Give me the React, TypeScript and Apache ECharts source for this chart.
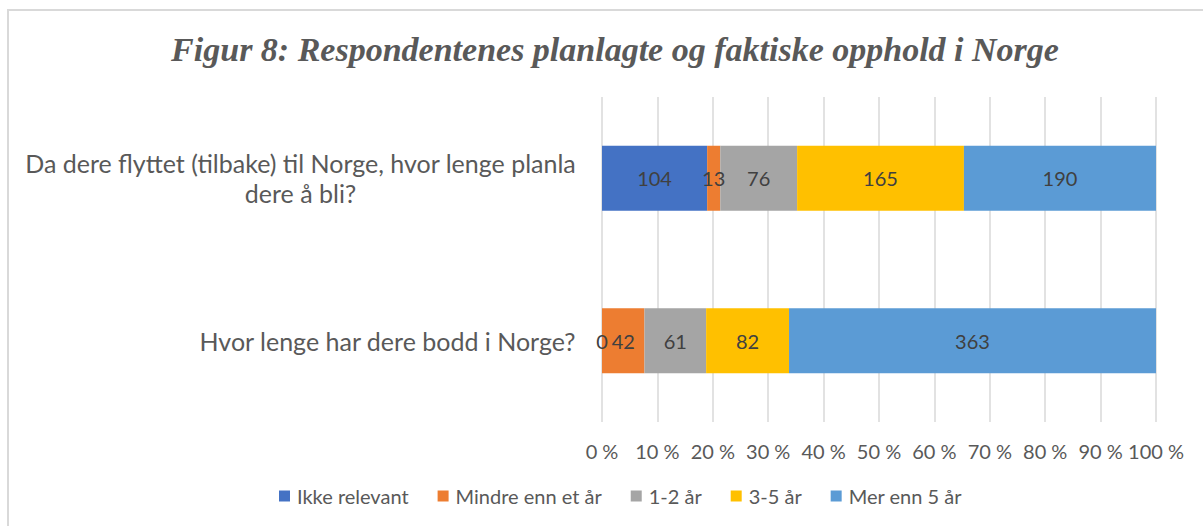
import React, { useEffect, useRef } from "react";
import * as echarts from "echarts";

const titleText = "Figur 8: Respondentenes planlagte og faktiske opphold i Norge";
const categories = [
  "Da dere flyttet (tilbake) til Norge, hvor lenge planla\ndere å bli?",
  "Hvor lenge har dere bodd i Norge?",
];
const seriesNames = ["Ikke relevant", "Mindre enn et år", "1-2 år", "3-5 år", "Mer enn 5 år"];
const ikkeRelevant = [104, 0];
const mindreEnnEtAr = [13, 42];
const ettTilToAr = [76, 61];
const treTilFemAr = [165, 82];
const merEnnFemAr = [190, 363];
const colors = ["#4472C4", "#ED7D31", "#A5A5A5", "#FFC000", "#5B9BD5"];

const allCounts = [ikkeRelevant, mindreEnnEtAr, ettTilToAr, treTilFemAr, merEnnFemAr];

export default function App() {
  const ref = useRef<HTMLDivElement>(null);
  useEffect(() => {
    document.body.style.margin = "0";
    if (!ref.current) return;
    const chart = echarts.init(ref.current, null, { renderer: "svg" });
    const totals = categories.map((_, ci) => allCounts.reduce((s, arr) => s + arr[ci], 0));
    const font = "Lato";
    chart.setOption({
      animation: false,
      backgroundColor: "#ffffff",
      title: {
        text: titleText,
        left: 610,
        textAlign: "center",
        top: 27,
        textStyle: {
          fontFamily: "Liberation Serif",
          fontStyle: "italic",
          fontWeight: "bold",
          fontSize: 34,
          color: "#595959",
        },
      },
      graphic: [
        {
          type: "rect",
          shape: { x: 8, y: 10, width: 1400, height: 700 },
          style: { fill: "none", stroke: "#d9d9d9", lineWidth: 2 },
          silent: true,
        },
      ],
      legend: {
        bottom: 15,
        left: 274,
        itemWidth: 11,
        itemHeight: 11,
        itemGap: 29,
        icon: "rect",
        textStyle: { fontFamily: font, fontSize: 20, color: "#595959", padding: [0, 0, 0, 2] },
        data: seriesNames,
      },
      grid: { left: 602, right: 47, top: 97, bottom: 104 },
      xAxis: {
        type: "value",
        min: 0,
        max: 1,
        interval: 0.1,
        axisLine: { show: false },
        axisTick: { show: false },
        splitLine: { lineStyle: { color: "#d9d9d9", width: 1.5 } },
        axisLabel: {
          margin: 19,
          fontFamily: font,
          fontSize: 20,
          color: "#595959",
          formatter: (v: number) => `${Math.round(v * 100)} %`,
        },
      },
      yAxis: {
        type: "category",
        inverse: true,
        data: categories,
        axisLine: { show: false },
        axisTick: { show: false },
        axisLabel: {
          margin: 26,
          fontFamily: font,
          fontSize: 25,
          color: "#595959",
          lineHeight: 30,
          formatter: (v: string) =>
            v
              .split("\n")
              .map((l) => `{c|${l}}`)
              .join("\n"),
          rich: {
            c: { align: "center", fontFamily: font, fontSize: 25, color: "#595959", lineHeight: 30 },
          },
        },
      },
      series: seriesNames.map((name, si) => ({
        name,
        type: "bar",
        stack: "total",
        barWidth: 65,
        itemStyle: { color: colors[si] },
        label: {
          show: true,
          position: "inside",
          fontFamily: font,
          fontSize: 20,
          color: "#404040",
          formatter: (p: any) => String(allCounts[si][p.dataIndex]),
        },
        data: allCounts[si].map((c, ci) => c / totals[ci]),
      })),
    });
    return () => chart.dispose();
  }, []);
  return <div ref={ref} style={{ width: 1203, height: 526 }} />;
}
